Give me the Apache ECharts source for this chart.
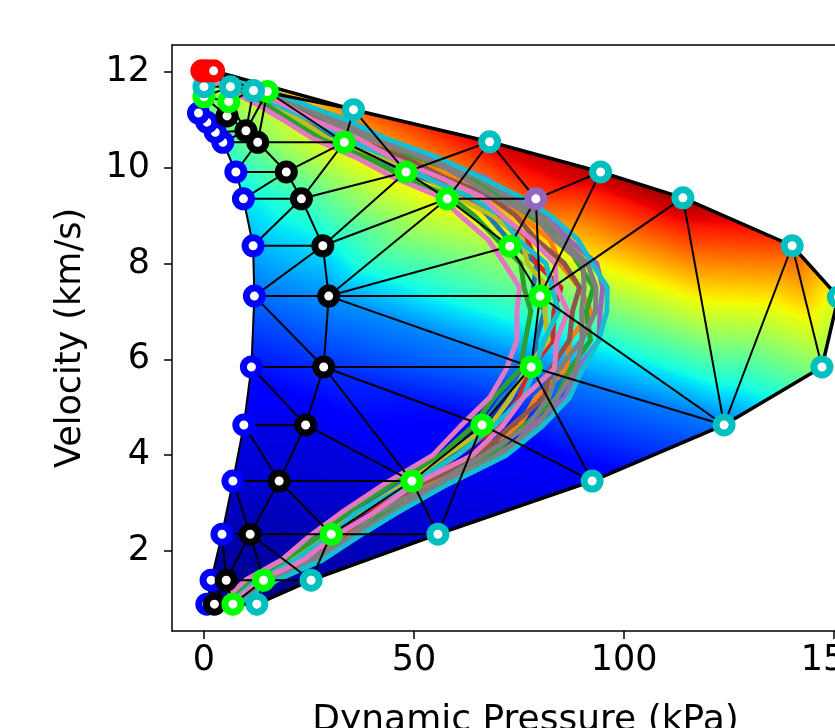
<!DOCTYPE html>
<html>
<head>
<meta charset="utf-8">
<script src="https://cdn.jsdelivr.net/npm/echarts@6/dist/echarts.min.js"></script>
<style>
  html, body { margin: 0; background: #fff; }
  #chart { width: 835px; height: 728px; }
</style>
</head>
<body>
<div id="chart"></div>
<script>
// Mesh nodes: [dynamic pressure kPa, velocity km/s]
const bluePts = [[0.7,0.89],[1.7,1.39],[4.3,2.35],[6.9,3.46],[9.5,4.63],[11.3,5.84],[12,7.32],[11.7,8.37],[9.4,9.35],[7.6,9.91],[4.5,10.53],[2.7,10.74],[0.7,10.95],[-1.3,11.14]];
const blackPts = [[2.5,0.89],[5.3,1.39],[11,2.35],[17.9,3.46],[24.2,4.63],[28.5,5.84],[29.7,7.32],[28.3,8.37],[23.2,9.35],[19.6,9.91],[12.8,10.53],[10,10.77],[5.5,11.08]];
const greenPts = [[6.9,0.89],[14.2,1.39],[30.3,2.35],[49.5,3.46],[66.2,4.63],[77.9,5.84],[80,7.32],[72.8,8.36],[57.9,9.35],[48.1,9.91],[33.4,10.53],[15.1,11.59],[5.9,11.38],[0,11.48]];
const cyanPts = [[12.6,0.89],[25.5,1.39],[55.7,2.35],[92.4,3.46],[123.8,4.63],[147.1,5.84],[151,7.3],[140,8.37],[114,9.37],[94.4,9.91],[68,10.54],[35.6,11.21],[11.8,11.61],[6.3,11.69],[0,11.69]];
const purplePts = [[79,9.35]];
const redPts = [[-0.5,12.02],[0.8,12.02],[2.3,12.02]];

// colour value (0..1 on jet) at each node
const blueVal = [0.0,0.02,0.04,0.07,0.09,0.14,0.23,0.3,0.35,0.38,0.42,0.44,0.46,0.48];
const blackVal = [0.0,0.02,0.04,0.07,0.09,0.17,0.27,0.35,0.42,0.47,0.5,0.5,0.5];
const greenVal = [0.0,0.02,0.05,0.08,0.12,0.25,0.47,0.57,0.66,0.68,0.67,0.62,0.54,0.52];
const cyanVal = [0.0,0.03,0.07,0.1,0.24,0.52,0.62,0.84,0.98,0.96,0.93,0.8,0.64,0.56,0.54];
const purpleVal = [0.84];
const redVal = [0.56,0.58,0.6];

// triangles by node label
const triangles = [
  "B0 K0 B1","K0 K1 B1","K0 G0 K1","G0 G1 K1","G0 C0 G1","C0 C1 G1",
  "B1 K1 B2","K1 K2 B2","K1 G1 K2","G1 C1 K2","K2 C1 G2","C1 C2 G2",
  "B2 K2 B3","B3 K2 K3","K2 G2 K3","K3 G2 G3","G2 C2 G3","G3 C2 G4","C2 C3 G4",
  "B3 K3 B4","B4 K3 K4","K3 G3 K4","K4 G3 K5","K5 G3 G4","B4 K4 B5","B5 K4 K5",
  "G4 C3 G5","G5 C3 C4","K5 G4 G5",
  "B5 K5 B6","B6 K5 K6","K5 G5 K6","K6 G5 G6","G5 C4 G6","G6 C4 C8","C4 C7 C8","C4 C5 C7","C5 C6 C7",
  "G6 C8 C9","G6 C9 P0","P0 C9 C10","G8 P0 C10","G8 G7 P0","G7 G6 P0",
  "B6 K6 K7","B6 K7 B7","B7 K7 K8","B7 K8 B8","B8 K8 K9","B8 K9 B9","B9 K9 K10","B9 K10 B10",
  "K6 G6 G7","K6 G7 G8","K6 G8 K7","K7 G8 G9","K7 G9 K8","K8 G9 G10","K8 G10 K9","K9 G10 K10","K10 G10 G11",
  "G8 G9 C10","G9 C10 C11","G9 C11 G10","G10 C11 G11",
  "B10 K10 K11","B10 K11 B11","B11 K11 K12","B11 K12 B12","K10 G11 K11","K11 G11 C12","K11 C12 G12",
  "K11 G12 K12","K12 G12 G13","B12 K12 G13","B12 G13 B13","G12 C12 C13","G12 C13 G13","G13 C13 C14",
  "B13 G13 C14","B13 C14 R0","C14 C13 R1","C14 R1 R0","C13 R2 R1","C13 C12 R2","C12 C11 R2","C12 G11 C11"
];
const hull = ["B0","K0","G0","C0","C1","C2","C3","C4","C5","C6","C7","C8","C9","C10","C11","R2"];

// trajectory bundle: velocity levels and pressure along each run
const trajVel = [0.89,1.1,1.4,1.8,2.3,2.8,3.4,4.0,4.6,5.2,5.8,6.4,7.0,7.5,8.0,8.5,9.0,9.4,9.8,10.2,10.6,11.0,11.3,11.6,11.9];
const trajBlue = [5.4,6.9,10.4,20,26.8,35.5,46.2,59.4,66,71,78.6,79,81.1,78.4,79.2,72.5,67.6,63,51.6,41,32.3,22.8,17.8,9.5,3.7];
const trajOrange = [7.4,10.2,15.2,25.5,32.2,41.8,53.4,63.9,75,79,86.3,87,92.1,89.4,84.7,82.4,75.3,70,58.2,50,37.7,30,20.2,13,4.9];
const trajGreen = [8.2,10.5,16.8,26,35.8,42.5,56.6,68.4,76,84,87.2,92,91,92.7,89.1,85.7,77.5,71,63.7,51,40.4,31.6,22,14,5.5];
const trajRed = [6.6,8.7,12.8,22.5,29.2,37.6,51,60.3,70,75,77.7,83,83.3,85,79.2,76.9,69.8,61,54.9,44,35,24.4,17.2,10.5,3.4];
const trajPurple = [8.6,11.7,16.8,27.5,35.8,46,57.4,71.1,78,86,89.1,94,94.3,94.9,93.5,86.8,81.9,73,67,54,43.1,32.4,24.4,15,6.1];
const trajBrown = [7.2,9.6,14,24,31.6,41.1,51.8,65.7,73,81,82.5,87,87.7,89.4,85.8,79.1,74.2,68,57.1,48,35.9,28.4,19.6,12,4.3];
const trajPink = [5,6.3,10,18.3,25,32.7,43,54.5,61,68,72,74.5,74.5,75.1,71.5,67.6,61,56,45,36.5,26,18.8,13,6.3,1];
const trajGray = [8,9.9,16,25,34.6,41.1,55,66.6,77,82,84.4,90,89.9,90.5,90.2,83.5,78.6,69,61.5,53,39.5,29.2,22.6,13.5,5.2];
const trajOlive = [6,7.8,11.6,21,28,36.9,47.8,57.6,68,73,76.8,82,81.1,81.7,77,75.8,68.7,60,52.7,42,29.6,22.8,16,9,2.5];
const trajPink2 = [7,9.3,13.6,23.5,31,40.4,50.2,63.9,71,76,83.4,84,86.6,83.9,83.6,78,70.9,66,56,45,36.8,26,19.6,11,4.3];
const trajCyan = [8.8,12,17.6,28,36.7,46,58.2,72,80.5,87,90.1,94,95.9,96,92.4,89,82.5,75,65.9,56,43.6,34,24.4,16,6.7];
const trajCyan2 = [6.4,7.5,12.4,21.5,29.8,36.2,49.4,60.3,69,76,78.7,81,84.4,82.8,81.4,74.7,70.9,63,52.7,45,33.2,25.2,17.8,9.5,3.1];
const trajGray2 = [8.4,11.4,16.4,26.8,35.2,44.6,56.2,69.8,79.5,84,88.6,90,93.2,93.3,91.3,85.2,80.3,72,64.8,52,41.8,31.6,23.8,14.5,5.8];
const trajGreen2 = [5.8,6.9,11,19,27.4,34.1,44.6,56.3,64,69,75.3,76.5,77.8,76.2,75.4,69.8,64.3,58.5,47.8,39,27.8,20.4,15.1,7.5,2.2];

const xTicks = [0, 50, 100, 150];
const yTicks = [2, 4, 6, 8, 10, 12];

// lookup by label
const pts = {};
const vals = {};
function addGroup(prefix, arr, v) {
  arr.forEach((p, i) => { pts[prefix + i] = p; vals[prefix + i] = v[i]; });
}
addGroup("B", bluePts, blueVal);
addGroup("K", blackPts, blackVal);
addGroup("G", greenPts, greenVal);
addGroup("C", cyanPts, cyanVal);
addGroup("P", purplePts, purpleVal);
addGroup("R", redPts, redVal);

const tris = triangles.map(s => s.split(" "));

// unique edges of the mesh
const edgeSet = {};
const edges = [];
tris.forEach(t => {
  [[t[0], t[1]], [t[1], t[2]], [t[2], t[0]]].forEach(e => {
    const key = e.slice().sort().join("-");
    if (!edgeSet[key]) { edgeSet[key] = true; edges.push(e); }
  });
});

// matplotlib jet
const JET = [
  [0, "rgb(0,0,128)"], [0.11, "rgb(0,0,255)"], [0.125, "rgb(0,0,255)"],
  [0.34, "rgb(0,219,255)"], [0.35, "rgb(0,230,247)"], [0.375, "rgb(21,255,226)"],
  [0.64, "rgb(239,255,8)"], [0.65, "rgb(247,245,0)"], [0.66, "rgb(255,236,0)"],
  [0.89, "rgb(255,19,0)"], [0.91, "rgb(232,0,0)"], [1, "rgb(128,0,0)"]
];
const jetStops = JET.map(s => ({ offset: s[0], color: s[1] }));

function jetColor(v) {
  const rgb = JET.map(s => s[1].match(/\d+/g).map(Number));
  for (let i = 1; i < JET.length; i++) {
    if (v <= JET[i][0]) {
      const f = (v - JET[i - 1][0]) / (JET[i][0] - JET[i - 1][0]);
      const c = rgb[i - 1].map((a, k) => Math.round(a + (rgb[i][k] - a) * f));
      return "rgb(" + c.join(",") + ")";
    }
  }
  return JET[JET.length - 1][1];
}

// gouraud shading of one triangle as a linear gradient
function shade(p, v) {
  const d1x = p[1][0] - p[0][0], d1y = p[1][1] - p[0][1];
  const d2x = p[2][0] - p[0][0], d2y = p[2][1] - p[0][1];
  const dv1 = v[1] - v[0], dv2 = v[2] - v[0];
  const det = d1x * d2y - d1y * d2x;
  if (Math.abs(det) < 1e-6) return null;
  const a = (dv1 * d2y - dv2 * d1y) / det;
  const b = (d1x * dv2 - d2x * dv1) / det;
  const g2 = a * a + b * b;
  if (g2 < 1e-12) return jetColor(v[0]);
  return {
    type: "linear", global: true,
    x: p[0][0] - v[0] * a / g2, y: p[0][1] - v[0] * b / g2,
    x2: p[0][0] + (1 - v[0]) * a / g2, y2: p[0][1] + (1 - v[0]) * b / g2,
    colorStops: jetStops
  };
}

const FONT = "DejaVu Sans";

const series = [];

// shaded mesh
series.push({
  type: "custom", z: 1, clip: false, silent: true,
  renderItem: function (params, api) {
    const t = tris[api.value(2)];
    const p = t.map(k => api.coord(pts[k]));
    const fill = shade(p, t.map(k => vals[k]));
    if (!fill) return null;
    return { type: "polygon", shape: { points: p }, style: { fill: fill, stroke: null } };
  },
  data: tris.map((t, i) => [
    (pts[t[0]][0] + pts[t[1]][0] + pts[t[2]][0]) / 3,
    (pts[t[0]][1] + pts[t[1]][1] + pts[t[2]][1]) / 3, i
  ]),
  encode: { x: 0, y: 1 }
});

const trajs = [
  [trajBlue, "#1f77b4"], [trajRed, "#d62728"], [trajOrange, "#ff7f0e"], [trajBrown, "#8c564b"],
  [trajGreen, "#2ca02c"], [trajOlive, "#bcbd22"], [trajGray, "#7f7f7f"], [trajCyan2, "#17becf"],
  [trajPurple, "#9467bd"], [trajGreen2, "#2ca02c"], [trajGray2, "#7f7f7f"], [trajPink2, "#e377c2"],
  [trajCyan, "#17becf"], [trajPink, "#e377c2"]
];
trajs.forEach(tr => {
  series.push({
    type: "line", z: 2, clip: false, silent: true, showSymbol: false, smooth: false,
    data: tr[0].map((x, j) => [x, trajVel[j]]),
    lineStyle: { color: tr[1], width: 5, join: "round", cap: "round" }
  });
});

// mesh edges
series.push({
  type: "custom", z: 3, clip: false, silent: true,
  renderItem: function (params, api) {
    const e = edges[api.value(2)];
    const a = api.coord(pts[e[0]]);
    const b = api.coord(pts[e[1]]);
    return { type: "line", shape: { x1: a[0], y1: a[1], x2: b[0], y2: b[1] }, style: { stroke: "#000", lineWidth: 2 } };
  },
  data: edges.map((e, i) => [(pts[e[0]][0] + pts[e[1]][0]) / 2, (pts[e[0]][1] + pts[e[1]][1]) / 2, i]),
  encode: { x: 0, y: 1 }
});

series.push({
  type: "line", z: 3, clip: false, silent: true, showSymbol: false,
  data: hull.map(k => pts[k]),
  lineStyle: { color: "#000", width: 3.5 }
});

[[bluePts, "#0000ff"], [blackPts, "#000000"], [greenPts, "#00ff00"],
 [cyanPts, "#00bfbf"], [purplePts, "#9467bd"], [redPts, "#ff0000"]].forEach(g => {
  series.push({
    type: "scatter", z: 4, clip: false, silent: true,
    data: g[0],
    symbol: "circle", symbolSize: 16,
    itemStyle: { color: "#ffffff", borderColor: g[1], borderWidth: 7, opacity: 1 }
  });
});

const axisStyle = { color: "#000", width: 1.5 };

const chart = echarts.init(document.getElementById("chart"));
chart.setOption({
  animation: false,
  backgroundColor: "#ffffff",
  grid: { left: 172, right: 0, top: 45, bottom: 97, outerBoundsMode: "none", containLabel: false },
  xAxis: [{
    type: "value", min: -7.6, max: 150.2,
    name: "Dynamic Pressure (kPa)", nameLocation: "middle", nameGap: 72,
    nameTextStyle: { fontFamily: FONT, fontSize: 36, color: "#000", padding: [0, 0, 0, 44] },
    axisLine: { show: true, lineStyle: axisStyle },
    axisTick: { show: true, length: 8, customValues: xTicks, lineStyle: axisStyle },
    axisLabel: { customValues: xTicks, fontFamily: FONT, fontSize: 35, color: "#000", margin: 12 },
    splitLine: { show: false }
  }, {
    type: "value", position: "top", min: -7.6, max: 150.2,
    axisLine: { show: true, onZero: false, lineStyle: axisStyle },
    axisTick: { show: false }, axisLabel: { show: false }, splitLine: { show: false }
  }],
  yAxis: {
    type: "value", min: 0.33, max: 12.56,
    name: "Velocity (km/s)", nameLocation: "middle", nameGap: 84, nameRotate: 90,
    nameTextStyle: { fontFamily: FONT, fontSize: 35, color: "#000" },
    axisLine: { show: true, onZero: false, lineStyle: axisStyle },
    axisTick: { show: true, length: 8, customValues: yTicks, lineStyle: axisStyle },
    axisLabel: { customValues: yTicks, fontFamily: FONT, fontSize: 35, color: "#000", margin: 22 },
    splitLine: { show: false }
  },
  series: series
});
</script>
</body>
</html>
